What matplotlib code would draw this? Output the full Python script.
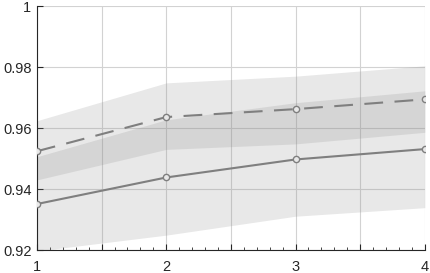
import numpy as np
import matplotlib
matplotlib.use('Agg')
import matplotlib.pyplot as plt
from matplotlib.ticker import MultipleLocator, FuncFormatter

# data
steps = [1, 2, 3, 4]

solid_mean  = [0.9351, 0.9438, 0.9497, 0.9531]
solid_lower = [0.9197, 0.9249, 0.9311, 0.9339]
solid_upper = [0.9506, 0.9627, 0.9683, 0.9722]

dash_mean  = [0.9524, 0.9636, 0.9662, 0.9694]
dash_lower = [0.9430, 0.9530, 0.9548, 0.9586]
dash_upper = [0.9624, 0.9748, 0.9770, 0.9804]

plt.rcParams['font.family'] = ['Liberation Sans', 'DejaVu Sans']

fig = plt.figure(figsize=(4.30, 2.73), dpi=100)
ax = fig.add_axes([0.086, 0.084, 0.902, 0.894])

band_col = (0.55, 0.55, 0.55)
line_col = '#7f7f7f'

ax.fill_between(steps, solid_lower, solid_upper, color=band_col, alpha=0.2, lw=0)
ax.fill_between(steps, dash_lower, dash_upper, color=band_col, alpha=0.2, lw=0)

ax.plot(steps, solid_mean, '-', color=line_col, lw=1.5,
        marker='o', ms=4.5, mfc='#e8e8e8', mec=line_col, mew=1.0, zorder=3)
ax.plot(steps, dash_mean, '--', color=line_col, lw=1.5, dashes=(9, 5.5),
        marker='o', ms=4.5, mfc='#e8e8e8', mec=line_col, mew=1.0, zorder=3)

ax.set_xlim(1, 4)
ax.set_ylim(0.92, 1.0)

ax.xaxis.set_major_locator(MultipleLocator(0.5))
ax.xaxis.set_minor_locator(MultipleLocator(0.1))
ax.xaxis.set_major_formatter(FuncFormatter(lambda v, p: '%d' % v if abs(v - round(v)) < 1e-6 else ''))
ax.yaxis.set_major_locator(MultipleLocator(0.02))
ax.yaxis.set_major_formatter(FuncFormatter(lambda v, p: '%g' % round(v, 4)))

ax.grid(True, which='major', color='#d2d2d2', lw=0.8)
ax.set_axisbelow(True)

ax.tick_params(axis='both', which='both', direction='in', labelsize=10.5,
               colors='#262626', top=False, right=False)
ax.tick_params(axis='x', which='major', length=4, pad=7)
ax.tick_params(axis='x', which='minor', length=2)
ax.tick_params(axis='y', which='major', length=4, pad=4)

for s in ['top', 'right']:
    ax.spines[s].set_visible(False)
for s in ['left', 'bottom']:
    ax.spines[s].set_color('#262626')
    ax.spines[s].set_linewidth(0.8)

fig.savefig('out.png', dpi=100)
